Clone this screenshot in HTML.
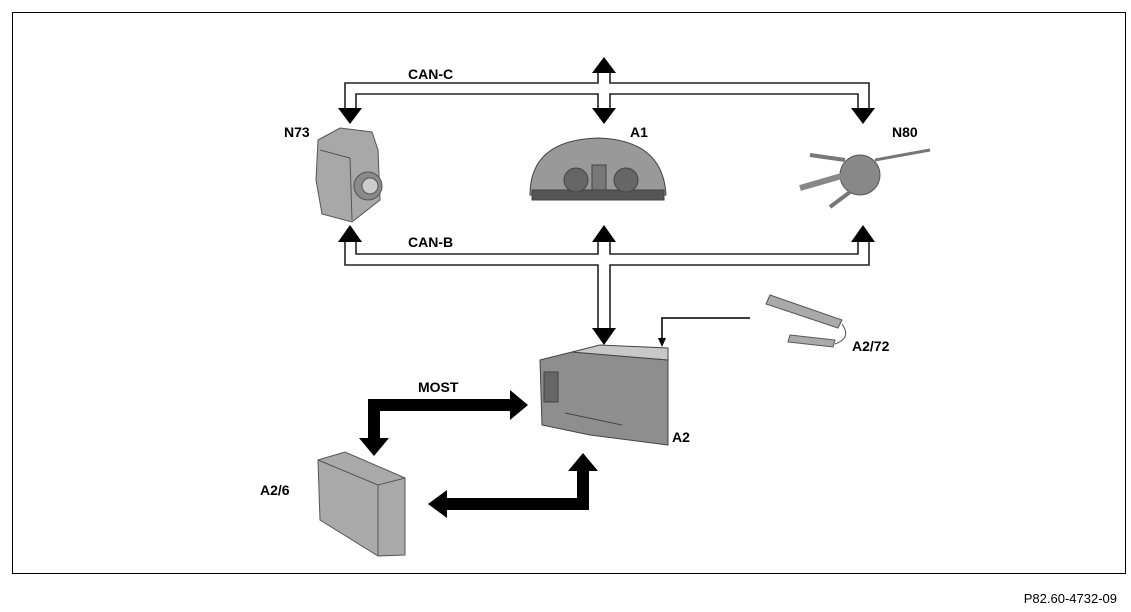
<!DOCTYPE html>
<html><head><meta charset="utf-8"><style>
body{margin:0;background:#fff;}
svg{display:block;font-family:"Liberation Sans",Arial,sans-serif;font-weight:bold;}
</style></head><body>
<svg width="1131" height="612" viewBox="0 0 1131 612" xmlns="http://www.w3.org/2000/svg">
<rect x="12.5" y="12.5" width="1113" height="561" fill="#fff" stroke="#000" stroke-width="1"/>
<text x="1117" y="603" font-size="13" font-weight="normal" text-anchor="end" fill="#000">P82.60-4732-09</text>

<!-- CAN-C bus -->
<g fill="none" stroke="#222" stroke-width="1.6">
<path d="M345 110 V83 H598 V72 M610 72 V83 H869 V110"/>
<path d="M356 110 V94 H598 V110 M610 110 V94 H858 V110"/>
<!-- CAN-B -->
<path d="M345 242 V265 H598 V330 M610 330 V265 H869 V242"/>
<path d="M356 242 V254 H598 V242 M610 242 V254 H858 V242"/>
<!-- A2/72 line -->
<path d="M750 318 H662 V340" stroke-width="1.8"/>
</g>
<g fill="#000">
<polygon points="604,57 592,73 616,73"/>
<polygon points="350,124 338,108 362,108"/>
<polygon points="604,124 592,108 616,108"/>
<polygon points="863,124 851,108 875,108"/>
<polygon points="350,225 338,242 362,242"/>
<polygon points="604,225 592,242 616,242"/>
<polygon points="863,225 851,242 875,242"/>
<polygon points="604,345 592,328 616,328"/>
<polygon points="662,347 658,338 666,338"/>
<!-- MOST -->
<path d="M368 399 H510 V390 L528 405 L510 420 V411 H380 V438 H389 L374 456 L359 438 H368 Z"/>
<path d="M447 498 H577 V471 H568 L583 453 L598 471 H589 V510 H447 V518 L428 504 L447 490 Z"/>
</g>
<g font-size="14" fill="#000">
<text x="408" y="79">CAN-C</text>
<text x="408" y="247">CAN-B</text>
<text x="284" y="137">N73</text>
<text x="630" y="137">A1</text>
<text x="892" y="137">N80</text>
<text x="418" y="392">MOST</text>
<text x="672" y="442">A2</text>
<text x="852" y="351">A2/72</text>
<text x="260" y="495">A2/6</text>
</g>

<!-- N73 -->
<g stroke="#555" stroke-width="1">
<path d="M318 140 L340 128 L372 132 L378 150 L380 200 L352 222 L322 214 L316 180 Z" fill="#a8a8a8"/>
<path d="M320 150 L350 158 L352 220" fill="none"/>
<circle cx="368" cy="186" r="14" fill="#8a8a8a"/>
<circle cx="370" cy="186" r="8" fill="#ccc"/>
</g>
<!-- A1 -->
<g stroke="#444" stroke-width="1">
<path d="M530 195 Q530 140 598 138 Q663 140 666 195 Z" fill="#999"/>
<rect x="532" y="190" width="132" height="10" fill="#555"/>
<circle cx="576" cy="180" r="12" fill="#666"/>
<circle cx="626" cy="180" r="12" fill="#666"/>
<rect x="592" y="165" width="14" height="25" fill="#777"/>
</g>
<!-- N80 -->
<g stroke="#555" stroke-width="1" fill="#999">
<circle cx="860" cy="175" r="20" fill="#888"/>
<path d="M845 160 L810 155" stroke-width="4" stroke="#777"/>
<path d="M845 175 L800 188" stroke-width="6" stroke="#888"/>
<path d="M850 192 L830 207" stroke-width="4" stroke="#777"/>
<path d="M875 160 L930 150" stroke-width="3" stroke="#777"/>
</g>
<!-- A2/72 -->
<g stroke="#555" stroke-width="1" fill="#aaa">
<path d="M770 295 L842 320 L838 328 L766 304 Z"/>
<path d="M790 335 L835 340 L833 347 L788 342 Z"/>
<path d="M842 324 Q852 338 835 344" fill="none"/>
</g>
<!-- A2 radio -->
<g stroke="#444" stroke-width="1">
<path d="M540 360 L572 352 L668 360 L668 445 L590 435 L542 425 Z" fill="#8e8e8e"/>
<path d="M572 352 L600 345 L668 348 L668 360 Z" fill="#c8c8c8"/>
<rect x="544" y="372" width="14" height="30" fill="#666"/>
<line x1="565" y1="413" x2="622" y2="425"/>
</g>
<!-- A2/6 -->
<g stroke="#555" stroke-width="1">
<path d="M318 460 L345 452 L405 478 L405 555 L378 556 L320 520 Z" fill="#aaa"/>
<path d="M318 460 L378 485 L405 478" fill="none"/>
<path d="M378 485 V556" fill="none"/>
</g>
</svg>
</body></html>
